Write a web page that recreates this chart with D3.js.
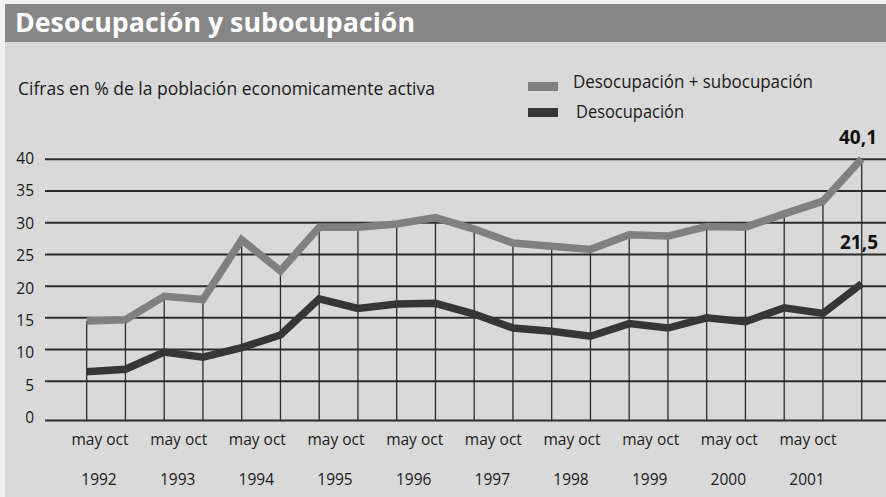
<!DOCTYPE html>
<html>
<head>
<meta charset="utf-8">
<script src="https://cdn.jsdelivr.net/npm/d3@7/dist/d3.min.js"></script>
<style>
  html, body { margin: 0; padding: 0; background: #f2f2f2; }
  svg { display: block; }
  text { font-family: "Open Sans", "Noto Sans", sans-serif; }
</style>
</head>
<body>
<svg id="chart" width="886" height="497"></svg>
<script>
// ---- data ----
const periods = ["may 1992","oct 1992","may 1993","oct 1993","may 1994","oct 1994",
  "may 1995","oct 1995","may 1996","oct 1996","may 1997","oct 1997","may 1998","oct 1998",
  "may 1999","oct 1999","may 2000","oct 2000","may 2001","oct 2001","may 2002"];
const desocSubocup = [14.5, 14.7, 18.4, 17.9, 27.3, 22.4, 29.3, 29.3, 29.8, 30.8, 29.0,
  26.8, 26.3, 25.8, 28.1, 27.9, 29.4, 29.3, 31.4, 33.4, 40.1];
const desocupacion = [6.5, 6.9, 9.6, 8.8, 10.3, 12.3, 18.0, 16.5, 17.2, 17.3, 15.6,
  13.4, 12.9, 12.1, 14.1, 13.4, 15.0, 14.4, 16.6, 15.7, 20.4];
const years = ["1992","1993","1994","1995","1996","1997","1998","1999","2000","2001"];
const yTicks = [0, 5, 10, 15, 20, 25, 30, 35, 40];
const seriesNames = ["Desocupación + subocupación", "Desocupación"];
const endLabels = ["40,1", "21,5"];
const titleText = "Desocupación y subocupación";
const subtitleText = "Cifras en % de la población economicamente activa";
const monthText = "may oct";

// ---- layout ----
const W = 886, H = 497;
const svg = d3.select("#chart");
const colGray = "#808080", colDark = "#363636", colGrid = "#2b2b2b";

svg.append("rect").attr("x", 5).attr("y", 4).attr("width", W - 5).attr("height", H - 4).attr("fill", "#d9d9d9");
svg.append("rect").attr("x", 5).attr("y", 4).attr("width", W - 5).attr("height", 38).attr("fill", "#868686");

function fit(sel, w) {
  sel.attr("textLength", w).attr("lengthAdjust", "spacingAndGlyphs");
  return sel;
}

fit(svg.append("text").attr("x", 15).attr("y", 32).attr("fill", "#ffffff")
  .attr("font-size", 27).attr("font-weight", 700).text(titleText), 400);

fit(svg.append("text").attr("x", 18).attr("y", 95).attr("fill", "#1a1a1a")
  .attr("font-size", 17.5).text(subtitleText), 417);

// legend
const legend = [
  {name: seriesNames[0], color: colGray, rx: 528, ry: 82, tx: 573, ty: 88, w: 240},
  {name: seriesNames[1], color: colDark, rx: 528, ry: 108, tx: 576, ty: 117.5, w: 108}
];
legend.forEach(l => {
  svg.append("rect").attr("x", l.rx).attr("y", l.ry).attr("width", 30).attr("height", 9).attr("fill", l.color);
  fit(svg.append("text").attr("x", l.tx).attr("y", l.ty).attr("fill", "#1a1a1a")
    .attr("font-size", 17.5).text(l.name), l.w);
});

// scales
const x = d3.scalePoint().domain(d3.range(periods.length)).range([86.7, 861.7]);
const y = d3.scaleLinear().domain([0, 5, 40]).range([420.5, 381.3, 159.3]);
const yLabel = d3.scaleLinear().domain([0, 40]).range([417.7, 158.3]);
const xYear = d3.scalePoint().domain(years).range([99, 807]);

// horizontal grid
svg.append("g").selectAll("line").data(yTicks).join("line")
  .attr("x1", 45).attr("x2", W).attr("y1", d => y(d)).attr("y2", d => y(d))
  .attr("stroke", colGrid).attr("stroke-width", 2);

// y labels
svg.append("g").selectAll("text").data(yTicks).join("text")
  .attr("x", 34).attr("y", d => yLabel(d) + 5.5).attr("text-anchor", "end")
  .attr("font-size", 15.5).attr("fill", "#1a1a1a").text(d => d);

// drop lines
svg.append("g").selectAll("line").data(desocSubocup).join("line")
  .attr("x1", (d, i) => x(i)).attr("x2", (d, i) => x(i))
  .attr("y1", y(0)).attr("y2", d => y(d))
  .attr("stroke", colGrid).attr("stroke-width", 1.3);

// lines
const line = d3.line().x((d, i) => x(i)).y(d => y(d));
svg.append("path").datum(desocSubocup).attr("d", line).attr("fill", "none")
  .attr("stroke", colGray).attr("stroke-width", 7.5).attr("stroke-linejoin", "miter");
svg.append("path").datum(desocupacion).attr("d", line).attr("fill", "none")
  .attr("stroke", colDark).attr("stroke-width", 7.5).attr("stroke-linejoin", "miter");

// end labels
svg.append("text").attr("x", 877).attr("y", 143.5).attr("text-anchor", "end")
  .attr("font-size", 19).attr("font-weight", 700).attr("fill", "#111").text(endLabels[0]);
svg.append("text").attr("x", 878).attr("y", 248.5).attr("text-anchor", "end")
  .attr("font-size", 19).attr("font-weight", 700).attr("fill", "#111").text(endLabels[1]);

// x labels
const xl = svg.append("g");
xl.selectAll("text.m").data(years).join("text").attr("class", "m")
  .attr("x", d => xYear(d) + 1).attr("y", 445).attr("text-anchor", "middle")
  .attr("font-size", 15.5).attr("fill", "#1a1a1a").text(monthText);
xl.selectAll("text.yr").data(years).join("text").attr("class", "yr")
  .attr("x", d => xYear(d)).attr("y", 485).attr("text-anchor", "middle")
  .attr("font-size", 15.5).attr("fill", "#1a1a1a").text(d => d);
</script>
</body>
</html>
